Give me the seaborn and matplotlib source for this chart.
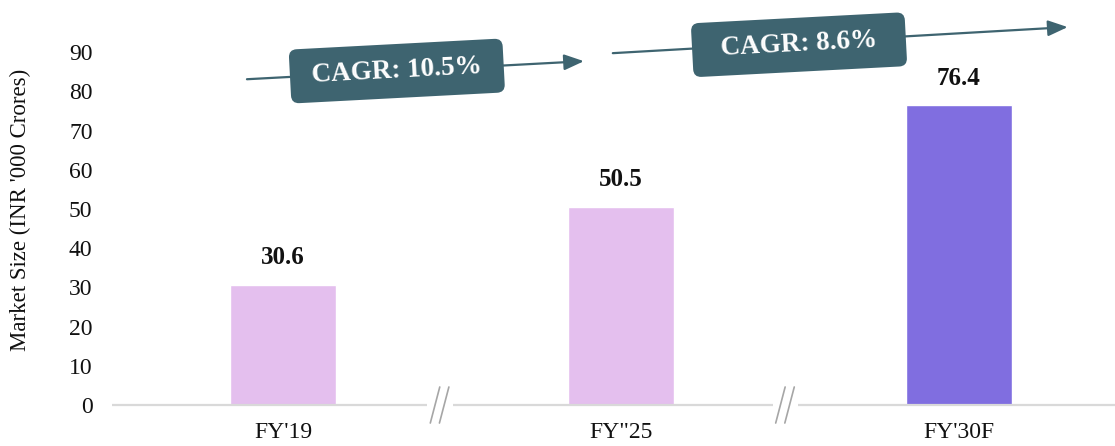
import matplotlib
matplotlib.use("Agg")
import matplotlib.pyplot as plt
from matplotlib.patches import FancyBboxPatch
from matplotlib.transforms import Affine2D
import seaborn as sns
import pandas as pd

# Market size by fiscal year
years = ["FY'19", 'FY"25', "FY'30F"]
market_size = [30.6, 50.5, 76.4]
bar_colors = ["#E4BFEE", "#E4BFEE", "#806EE0"]
cagr_labels = ["CAGR: 10.5%", "CAGR: 8.6%"]
y_ticks = [0, 10, 20, 30, 40, 50, 60, 70, 80, 90]

sns.set_theme(style="white")
plt.rcParams["font.family"] = ["Liberation Serif", "DejaVu Serif"]

df = pd.DataFrame({"year": years, "size": market_size})

fig = plt.figure(figsize=(11.15, 4.46), dpi=100)
ax = fig.add_axes([0.1004, 0.0919, 0.8996, 0.879])

sns.barplot(data=df, x="year", y="size", hue="year", palette=bar_colors,
            width=0.314, legend=False, ax=ax, saturation=1)

ax.set_xlim(-0.506, 2.462)
ax.set_ylim(0, 100)
ax.set_yticks(y_ticks)
ax.tick_params(axis="both", length=0, labelsize=17, colors="#111111")
ax.tick_params(axis="x", pad=12)
ax.tick_params(axis="y", pad=14)
ax.set_xlabel("")
ax.set_ylabel("Market Size (INR '000 Crores)", fontsize=16.5, color="#111111")
ax.yaxis.set_label_coords(-0.081, 0.497)
for s in ax.spines.values():
    s.set_visible(False)

# value labels on top of bars
for i, v in enumerate(market_size):
    ax.text(i, v + 4.0, f"{v:.1f}", ha="center", va="bottom",
            fontsize=18, fontweight="bold", color="#111111")

# baseline with axis breaks between the periods
axis_color = "#D9D9D9"
segments = [(-0.506, 0.426), (0.503, 1.450), (1.524, 2.462)]
for x0, x1 in segments:
    ax.plot([x0, x1], [0, 0], color=axis_color, lw=1.6, clip_on=False,
            solid_capstyle="butt", zorder=1)
for xb in (0.45, 1.472):
    for dx in (0.0, 0.027):
        ax.plot([xb + dx + 0.014, xb + dx - 0.014], [4.6, -4.6],
                color="#A6A6A6", lw=1.2, clip_on=False, zorder=3)

# growth arrows with CAGR boxes
box_color = "#3E6470"
arrows = [((-0.1065, 83.1), (0.8905, 87.7)), ((0.976, 89.75), (2.322, 96.4))]
box_centers = [(0.337, 85.2), (1.527, 91.9)]
box_w, box_h, tilt = 214, 54, 3.0
for (start, end), center, label in zip(arrows, box_centers, cagr_labels):
    ax.annotate("", xy=end, xytext=start, annotation_clip=False,
                arrowprops=dict(arrowstyle="-|>,head_length=1.0,head_width=0.4",
                                color=box_color, lw=1.6, shrinkA=0, shrinkB=0))
    cx, cy = ax.transData.transform(center)
    box = FancyBboxPatch((-box_w / 2, -box_h / 2), box_w, box_h,
                         boxstyle="round,pad=0,rounding_size=8",
                         fc=box_color, ec="none", clip_on=False, zorder=4,
                         transform=Affine2D().rotate_deg(tilt).translate(cx, cy))
    fig.add_artist(box)
    fig.text(cx / fig.bbox.width, cy / fig.bbox.height, label,
             ha="center", va="center", rotation=tilt, rotation_mode="anchor",
             fontsize=19.5, fontweight="bold", color="white", zorder=5)

fig.savefig("out.png", dpi=100)
